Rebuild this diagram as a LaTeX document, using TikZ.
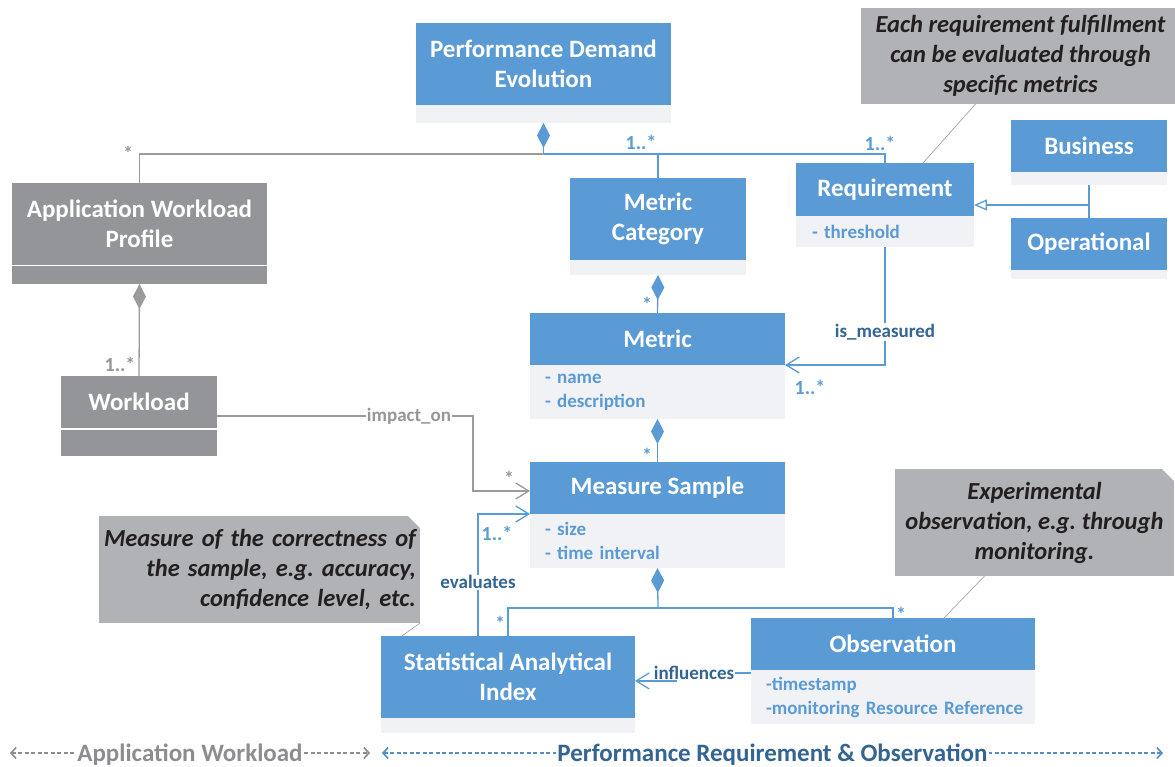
\documentclass[tikz,border=0pt]{standalone}
\usepackage{fontspec}
\setmainfont{Carlito}
\usepackage{xcolor}
\usepackage{tikz}
\usetikzlibrary{arrows.meta, positioning, calc}
\frenchspacing

\definecolor{umlblue}{RGB}{91,155,213}
\definecolor{umllight}{RGB}{240,242,245}
\definecolor{umlgrey}{RGB}{147,149,152}
\definecolor{notegrey}{RGB}{177,178,182}
\definecolor{notetext}{RGB}{35,31,32}
\definecolor{linkblue}{RGB}{52,100,146}
\definecolor{linkgrey}{RGB}{155,155,158}
\definecolor{multgrey}{RGB}{150,150,152}
\definecolor{spangrey}{RGB}{140,141,145}
\definecolor{spanblue}{RGB}{84,142,200}

\begin{document}
\begin{tikzpicture}[
    x=1pt, y=-1pt,
    head/.style={rectangle, fill=umlblue, text=white, font=\fontsize{25}{30}\selectfont\bfseries, align=center, inner sep=0pt, outer sep=0pt},
    ghead/.style={head, fill=umlgrey},
    body/.style={rectangle, fill=umllight, text=umlblue, font=\fontsize{19}{24}\selectfont\bfseries, align=left, inner ysep=0pt, inner xsep=15pt, outer sep=0pt},
    gbody/.style={body, fill=umlgrey},
    note/.style={rectangle, fill=notegrey, text=notetext, font=\fontsize{24.5}{30}\selectfont\bfseries\itshape, inner sep=0pt, outer sep=0pt},
    mult/.style={font=\fontsize{20}{20}\selectfont\bfseries, text=umlblue, inner sep=1pt},
    gmult/.style={mult, text=multgrey},
    role/.style={font=\fontsize{19}{19}\selectfont\bfseries, text=linkblue, fill=white, inner sep=1pt},
    link/.style={draw=umlblue, line width=1.3pt},
    glink/.style={draw=linkgrey, line width=1.3pt},
    comp/.style={{Diamond[length=25pt, width=13pt]}-},
    assoc/.style={-{Straight Barb[length=13pt, width=16pt]}},
    gen/.style={-{Triangle[open, length=13pt, width=11pt, fill=white]}},
    noteline/.style={draw=gray!70, line width=0.7pt},
    span/.style={{Straight Barb[length=5pt, width=11pt]}-{Straight Barb[length=5pt, width=11pt]}, line width=1.6pt, dash pattern=on 4pt off 2.5pt},
    spanlabel/.style={font=\fontsize{25}{25}\selectfont\bfseries, fill=white, inner xsep=1pt, inner ysep=0pt}
]
\useasboundingbox (0,0) rectangle (1175,767);

% Classes
\node[head, minimum width=255, minimum height=82] (pde) at (543.5,64) {Performance Demand\\Evolution};
\node[body, minimum width=255, minimum height=18, below=0pt of pde] (pdeb) {};

\node[ghead, minimum width=255, minimum height=82] (awp) at (139.5,224) {Application Workload\\Profile};
\node[gbody, minimum width=255, minimum height=17.5, below=1.5pt of awp] (awpb) {};

\node[ghead, minimum width=156, minimum height=52] (wl) at (139,402) {Workload};
\node[gbody, minimum width=156, minimum height=26.5, below=1.5pt of wl] (wlb) {};

\node[head, minimum width=176, minimum height=82] (mc) at (658,219) {Metric\\Category};
\node[body, minimum width=176, minimum height=15, below=0pt of mc] (mcb) {};

\node[head, minimum width=255, minimum height=52] (metric) at (657.5,339) {Metric};
\node[body, text width=225, minimum height=54, below=0pt of metric] (metricb) {- name\\- description};

\node[head, minimum width=255, minimum height=52] (ms) at (657.5,488) {Measure Sample};
\node[body, text width=225, minimum height=54, below=0pt of ms] (msb) {- size\\- time interval};

\node[head, minimum width=178, minimum height=53] (req) at (885,189.5) {Requirement};
\node[body, text width=146, inner xsep=16pt, minimum height=31, below=0pt of req] (reqb) {- threshold};

\node[head, minimum width=156, minimum height=52] (bus) at (1089,146) {Business};
\node[body, minimum width=156, minimum height=13, below=0pt of bus] (busb) {};
\node[head, minimum width=156, minimum height=52] (op) at (1089,244) {Operational};
\node[body, minimum width=156, minimum height=9, below=0pt of op] (opb) {};

\node[head, minimum width=254, minimum height=82] (sai) at (508,677) {Statistical Analytical\\Index};
\node[body, minimum width=254, minimum height=15, below=0pt of sai] (saib) {};

\node[head, minimum width=284, minimum height=52] (obs) at (893,644) {Observation};
\node[body, text width=264, inner xsep=10pt, minimum height=54, below=0pt of obs] (obsb) {\hspace*{5pt}-timestamp\\\hspace*{5pt}-monitoring Resource Reference};

% Notes
\node[note, minimum width=319, minimum height=96, align=center] (note1) at (1020.5,56) {Each requirement fulfillment\\can be evaluated through\\specific metrics};
\node[note, minimum width=279, minimum height=107, align=center] (note2) at (1034.5,522.5) {Experimental\\observation, e.g. through\\monitoring.};
\node[note, text width=313, inner xsep=4pt, minimum height=107, align=right] (note3) at (259.5,569.5) {Measure of the correctness of\\the sample, e.g. accuracy,\\confidence level, etc.};
\fill[white] ([xshift=-12pt]note2.north east) -- (note2.north east) -- ([yshift=-12pt]note2.north east) -- cycle;
\fill[white] ([xshift=-12pt]note3.north east) -- (note3.north east) -- ([yshift=-12pt]note3.north east) -- cycle;

% Compositions
\coordinate (top) at (543.5,154);
\draw[link, comp] (pdeb.south) -- (top);
\draw[glink] (top) -| (awp.north);
\draw[link] (top) -| (req.north);
\draw[link] (mc.north) |- (top);
\draw[glink, comp] (awpb.south) -- (wl.north);
\draw[link, comp] (mcb.south) -- (metric.north);
\draw[link, comp] (metricb.south) -- (ms.north);
\coordinate (bot) at (658,608);
\draw[link, comp] (msb.south) -- (bot);
\draw[link] (bot) -| (obs.north);
\draw[link] (bot) -| (sai.north);

% Associations
\coordinate (bend) at (473,416);
\draw[glink, assoc] (wl.east |- bend) -- node[pos=0.75, role, text=multgrey] (impact) {impact\_on} (bend) |- ([yshift=-3pt]ms.west);
\draw[link, assoc] ([xshift=-30pt]sai.north) |- node[pos=0.22, role] (eval) {evaluates} (msb.north west);
\draw[link, assoc] (reqb.south) |- node[pos=0.36, role] (meas) {is\_measured} (metricb.north east);
\node[role] (infl) at (694,673) {influences};
\draw[link] (infl.east -| obs.west) -- (infl.east);
\draw[link, assoc] ([xshift=-17pt]infl.south) -- (infl.south -| sai.east);

% Generalization
\coordinate (genj) at (1089,205);
\draw[link] (busb.south) -- (op.north);
\draw[link, gen] (genj) -- (genj -| req.east);

% Note links
\draw[noteline] ([xshift=-45pt]note1.south) -- ([xshift=38pt]req.north);
\draw[noteline] ([xshift=-50pt]note2.south) -- ([xshift=51pt]obs.north);
\draw[noteline] (note3.south east) -- ([xshift=21pt]sai.north west);

% Multiplicities
\node[gmult] (m1) at (128,153) {*};
\node[mult] (m2) at (641,142) {1..*};
\node[mult] (m3) at (880,143) {1..*};
\node[mult] (m4) at (647,304) {*};
\node[gmult] (m5) at (120,364) {1..*};
\node[mult] (m6) at (810,387) {1..*};
\node[mult] (m7) at (647,455) {*};
\node[gmult] (m8) at (509,478) {*};
\node[mult] (m9) at (497,533) {1..*};
\node[mult] (m10) at (500,623) {*};
\node[mult] (m11) at (901,614) {*};

% Scope arrows
\coordinate (aw1) at (10,753);
\coordinate (aw2) at (370,753);
\draw[span, draw=spangrey] (aw1) -- node[spanlabel, text=spangrey, yshift=-2pt] (awlabel) {Application Workload} (aw2);
\coordinate (pr1) at (382,753);
\coordinate (pr2) at (1163,753);
\draw[span, draw=spanblue] (pr1) -- node[spanlabel, text=linkblue, yshift=-2pt] (prlabel) {Performance Requirement \& Observation} (pr2);

\end{tikzpicture}
\end{document}
